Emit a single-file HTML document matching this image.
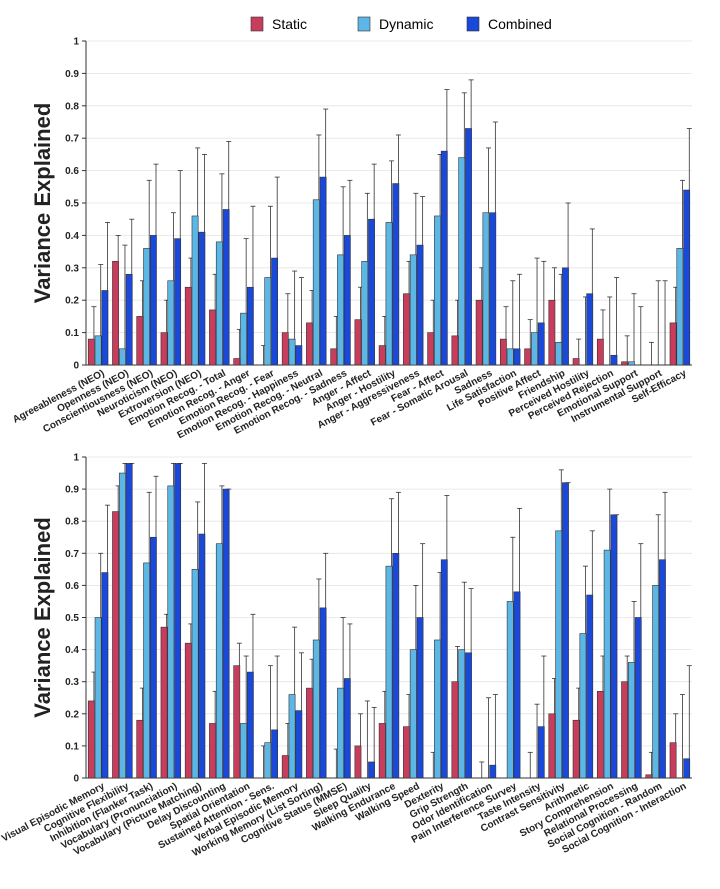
<!DOCTYPE html>
<html><head><meta charset="utf-8"><style>
body{margin:0;background:#fff;font-family:"Liberation Sans",sans-serif}
svg{display:block}
</style></head><body>
<svg id="c" width="720" height="889">
<g>
<rect x="251" y="17" width="12" height="14" fill="#c83c5c" stroke="#333" stroke-width="0.6"/>
<text x="272" y="29" font-size="14">Static</text>
<rect x="358" y="17" width="12" height="14" fill="#5cb6e6" stroke="#333" stroke-width="0.6"/>
<text x="379" y="29" font-size="14">Dynamic</text>
<rect x="467" y="17" width="12" height="14" fill="#1a48d8" stroke="#333" stroke-width="0.6"/>
<text x="488" y="29" font-size="14">Combined</text>
</g>
</svg>
<script>
const topCats=["Agreeableness (NEO)","Openness (NEO)","Conscientiousness (NEO)","Neuroticism (NEO)","Extroversion (NEO)","Emotion Recog. - Total","Emotion Recog. - Anger","Emotion Recog. - Fear","Emotion Recog. - Happiness","Emotion Recog. - Neutral","Emotion Recog. - Sadness","Anger - Affect","Anger - Hostility","Anger - Aggressiveness","Fear - Affect","Fear - Somatic Arousal","Sadness","Life Satisfaction","Positive Affect","Friendship","Perceived Hostility","Perceived Rejection","Emotional Support","Instrumental Support","Self-Efficacy"];
const topStatic=[0.08,0.32,0.15,0.10,0.24,0.17,0.02,0.0,0.10,0.13,0.05,0.14,0.06,0.22,0.10,0.09,0.20,0.08,0.05,0.20,0.02,0.08,0.01,0.0,0.13];
const topStaticErr=[0.18,0.40,0.26,0.20,0.33,0.28,0.11,0.06,0.22,0.23,0.15,0.24,0.15,0.32,0.20,0.20,0.30,0.18,0.14,0.30,0.08,0.17,0.09,0.07,0.24];
const topDynamic=[0.09,0.05,0.36,0.26,0.46,0.38,0.16,0.27,0.08,0.51,0.34,0.32,0.44,0.34,0.46,0.64,0.47,0.05,0.10,0.07,0.0,0.0,0.01,0.0,0.36];
const topDynamicErr=[0.31,0.37,0.57,0.47,0.67,0.59,0.39,0.49,0.29,0.71,0.55,0.53,0.63,0.53,0.65,0.84,0.67,0.26,0.33,0.28,0.21,0.21,0.22,0.26,0.57];
const topCombined=[0.23,0.28,0.40,0.39,0.41,0.48,0.24,0.33,0.06,0.58,0.40,0.45,0.56,0.37,0.66,0.73,0.47,0.05,0.13,0.30,0.22,0.03,0.0,0.0,0.54];
const topCombinedErr=[0.44,0.45,0.62,0.60,0.65,0.69,0.49,0.58,0.27,0.79,0.57,0.62,0.71,0.52,0.85,0.88,0.75,0.28,0.32,0.50,0.42,0.27,0.18,0.26,0.73];

const botCats=["Visual Episodic Memory","Cognitive Flexibility","Inhibition (Flanker Task)","Vocabulary (Pronunciation)","Vocabulary (Picture Matching)","Delay Discounting","Spatial Orientation","Sustained Attention - Sens.","Verbal Episodic Memory","Working Memory (List Sorting)","Cognitive Status (MMSE)","Sleep Quality","Walking Endurance","Walking Speed","Dexterity","Grip Strength","Odor Identification","Pain Interference Survey","Taste Intensity","Contrast Sensitivity","Arithmetic","Story Comprehension","Relational Processing","Social Cognition - Random","Social Cognition - Interaction"];
const botStatic=[0.24,0.83,0.18,0.47,0.42,0.17,0.35,0.0,0.07,0.28,0.0,0.10,0.17,0.16,0.0,0.30,0.0,0.0,0.0,0.20,0.18,0.27,0.30,0.01,0.11];
const botStaticErr=[0.33,0.91,0.28,0.51,0.48,0.27,0.42,0.10,0.17,0.37,0.09,0.20,0.27,0.26,0.08,0.41,0.05,0.0,0.08,0.31,0.28,0.38,0.38,0.08,0.20];
const botDynamic=[0.50,0.95,0.67,0.91,0.65,0.73,0.17,0.11,0.26,0.43,0.28,0.0,0.66,0.40,0.43,0.40,0.0,0.55,0.0,0.77,0.45,0.71,0.36,0.60,0.0];
const botDynamicErr=[0.70,0.98,0.89,0.98,0.86,0.91,0.38,0.35,0.47,0.62,0.50,0.24,0.87,0.60,0.64,0.61,0.25,0.75,0.23,0.96,0.66,0.90,0.55,0.82,0.26];
const botCombined=[0.64,0.98,0.75,0.98,0.76,0.90,0.33,0.15,0.21,0.53,0.31,0.05,0.70,0.50,0.68,0.39,0.04,0.58,0.16,0.92,0.57,0.82,0.50,0.68,0.06];
const botCombinedErr=[0.85,0.98,0.94,0.98,0.98,0.90,0.51,0.38,0.39,0.70,0.48,0.22,0.89,0.73,0.88,0.59,0.26,0.84,0.38,0.92,0.77,0.82,0.73,0.89,0.35];
const ticks=[0,0.1,0.2,0.3,0.4,0.5,0.6,0.7,0.8,0.9,1];

const NS="http://www.w3.org/2000/svg";
const svg=document.getElementById('c');
function mk(tag,attrs,parent){const e=document.createElementNS(NS,tag);for(const k in attrs)e.setAttribute(k,attrs[k]);(parent||svg).appendChild(e);return e;}
const colors=["#c83c5c","#5cb6e6","#1a48d8"];
const names=["static","dynamic","combined"];
function chart(prefix,top,bottom,cats,series,errs){
  const x0=86,x1=692;
  const g=mk('g',{});
  
  
  const y=v=>bottom-v*(bottom-top);
  const gw=(x1-x0)/cats.length;
  const xc=i=>x0+gw*(i+0.5);
  ticks.forEach(t=>{
    if(t>0){const l=mk('line',{x1:x0,x2:x1,y1:y(t),y2:y(t),stroke:'#e4e4e4','stroke-width':0.8},g);
    }
    const tk=mk('line',{x1:x0-4,x2:x0,y1:y(t),y2:y(t),stroke:'#333'},g);
    
    const tx=mk('text',{x:x0-7,y:y(t)+3.5,'font-size':10,'font-weight':'bold','text-anchor':'end',fill:'#222'},g);
    tx.textContent=String(t);
    
  });
  const ax=mk('line',{x1:x0,x2:x0,y1:top,y2:bottom,stroke:'#333'},g);
  
  const xa=mk('line',{x1:x0,x2:x1,y1:bottom,y2:bottom,stroke:'#333'},g);
  
  const bw=6.2;
  cats.forEach((c,i)=>{
    for(let s=0;s<3;s++){
      const bx=xc(i)+(s-1)*(bw+0.6)-bw/2;
      const v=series[s][i];
      const r=mk('rect',{x:bx,y:y(v),width:bw,height:Math.max(0,bottom-y(v)),fill:colors[s],stroke:'#333','stroke-width':0.6},g);
      
      const ex=bx+bw-0.5;
      const e=mk('line',{x1:ex,x2:ex,y1:y(v),y2:y(errs[s][i]),stroke:'#333','stroke-width':0.8},g);
      
      const cap=mk('line',{x1:ex-2.5,x2:ex+2.5,y1:y(errs[s][i]),y2:y(errs[s][i]),stroke:'#333','stroke-width':0.8},g);
      
    }
    const lx=xc(i)+7, ly=bottom+10;
    const t=mk('text',{x:lx,y:ly,'font-size':10,'font-weight':'bold','text-anchor':'end',fill:'#222',transform:`rotate(-28 ${lx} ${ly})`},g);
    t.textContent=c;
    
  });
  const cy=(top+bottom)/2;
  const yt=mk('text',{x:50,y:cy,'font-size':22,'font-weight':'bold','text-anchor':'middle',fill:'#222',transform:`rotate(-90 50 ${cy})`},g);
  yt.textContent='Variance Explained';
  
}
chart('top',41,365,topCats,[topStatic,topDynamic,topCombined],[topStaticErr,topDynamicErr,topCombinedErr]);
chart('bottom',457,778,botCats,[botStatic,botDynamic,botCombined],[botStaticErr,botDynamicErr,botCombinedErr]);
</script>
</body></html>
